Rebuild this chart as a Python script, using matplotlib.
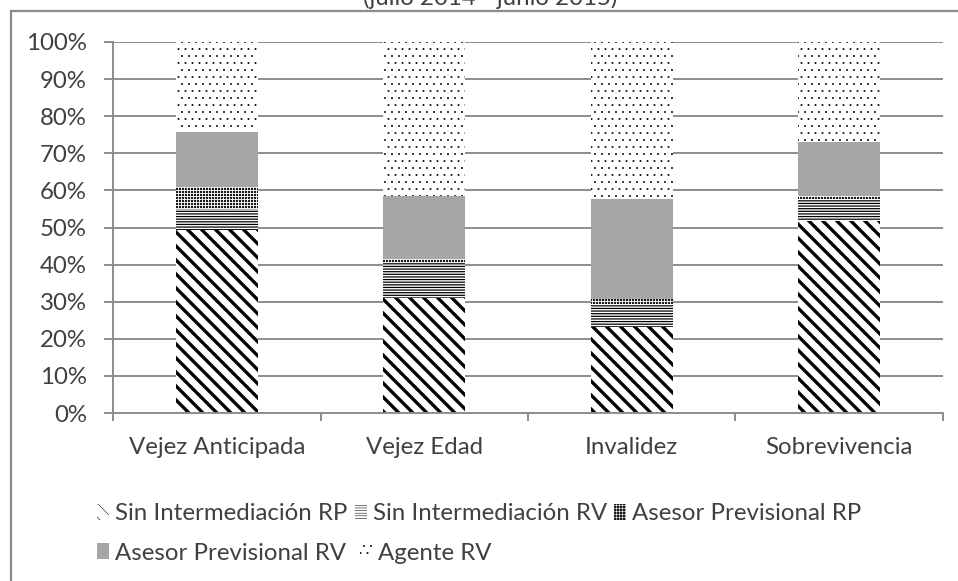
import matplotlib
matplotlib.use("Agg")
import matplotlib.pyplot as plt
import numpy as np
from matplotlib.patches import Rectangle, Patch
from matplotlib.ticker import PercentFormatter

# datos (% de cada modalidad por tipo de pensión)
categorias = ["Vejez Anticipada", "Vejez Edad", "Invalidez", "Sobrevivencia"]
sin_rp = [49.3, 30.9, 23.3, 51.8]
sin_rv = [5.7, 9.4, 6.1, 5.9]
asesor_rp = [6.0, 1.3, 1.4, 0.9]
asesor_rv = [14.8, 17.0, 26.8, 14.4]
agente_rv = [24.2, 41.4, 42.4, 27.0]

nombres = ["Sin Intermediación RP", "Sin Intermediación RV", "Asesor Previsional RP",
           "Asesor Previsional RV", "Agente RV"]
titulo = "(julio 2014 - junio 2015)"

# estilos: (relleno, color trama, trama, grosor trama)
estilos = [("white", "black", "\\\\\\", 1.9),
           ("white", "black", "--------", 0.7),
           ("#1a1a1a", "white", "+++++++", 0.5),
           ("#a6a6a6", "#a6a6a6", None, 0.5),
           ("white", "black", "...", 0.3)]

DPI = 126
TXT = "#404040"
GRIS = "#8c8c8c"
plt.rcParams["font.family"] = ["Lato", "DejaVu Sans"]
fs = 24 * 72 / DPI  # ~24 px

fig = plt.figure(figsize=(958 / DPI, 581 / DPI), dpi=DPI)
ax = fig.add_axes([113 / 958, 1 - 413 / 581, 830 / 958, 371 / 581])

x = np.arange(len(categorias))
series = [sin_rp, sin_rv, asesor_rp, asesor_rv, agente_rv]
base = np.zeros(len(categorias))
handles = []
for vals, nombre, (fc, hc, hatch, hlw) in zip(series, nombres, estilos):
    plt.rcParams["hatch.linewidth"] = hlw
    v = np.array(vals) / 100
    ax.bar(x, v, bottom=base, width=0.395, color=fc, edgecolor=hc,
           linewidth=0, hatch=hatch, zorder=2)
    handles.append(Patch(facecolor=fc, edgecolor=hc, linewidth=0, hatch=hatch, label=nombre))
    base = base + v

ax.set_xlim(-0.5, 3.5)
ax.set_ylim(0, 1)
ax.set_yticks(np.arange(0, 1.01, 0.1))
ax.yaxis.set_major_formatter(PercentFormatter(1.0, decimals=0))
ax.set_xticks(x)
ax.set_xticklabels(categorias)
ax.set_xticks(np.arange(-0.5, 3.6, 1), minor=True)

ax.grid(axis="y", color=GRIS, linewidth=1.1, zorder=0)
ax.set_axisbelow(True)
for s in ["top", "right"]:
    ax.spines[s].set_visible(False)
for s in ["left", "bottom"]:
    ax.spines[s].set_color(GRIS)
    ax.spines[s].set_linewidth(1.1)

ax.tick_params(axis="y", length=9 * 72 / DPI, width=1.1, color=GRIS,
               labelsize=fs, labelcolor=TXT, pad=17 * 72 / DPI)
ax.tick_params(axis="x", which="major", length=0, labelsize=fs, labelcolor=TXT,
               pad=24 * 72 / DPI)
ax.tick_params(axis="x", which="minor", length=8 * 72 / DPI, width=1.1, color=GRIS)

# marco exterior del gráfico
fig.patches.append(Rectangle((11 / 958, -0.2), 1.2, 1 - 11 / 581 + 0.2,
                             transform=fig.transFigure, fill=False,
                             edgecolor=GRIS, linewidth=1.3))

fig.text(490 / 958, 1 - 5 / 581, titulo, ha="center", va="baseline",
         fontsize=fs, color=TXT)

kw = dict(frameon=False, fontsize=fs, handlelength=0.5, handleheight=0.6,
          handletextpad=0.25, borderpad=0, borderaxespad=0,
          labelcolor=TXT, loc="center left")
fig.legend(handles=handles[:3], ncol=3, columnspacing=0.3,
           bbox_to_anchor=(97 / 958, 1 - 514 / 581), **kw)
fig.legend(handles=handles[3:], ncol=2, columnspacing=0.6,
           bbox_to_anchor=(97 / 958, 1 - 553 / 581), **kw)

fig.savefig("out.png", dpi=DPI)
